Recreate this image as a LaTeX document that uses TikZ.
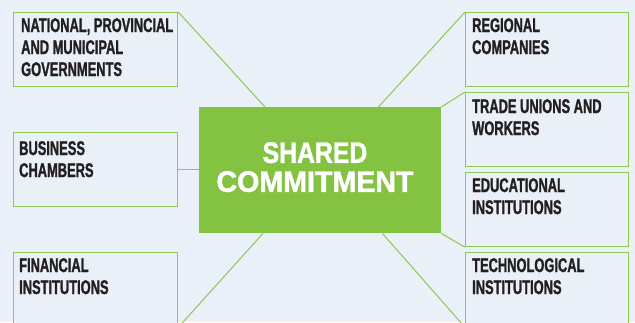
\documentclass[tikz,border=0pt]{standalone}
\usepackage{fontspec}
\usepackage{graphicx}
\usetikzlibrary{calc}
\newfontfamily\cardfont[FakeStretch=0.65,FakeBold=1.2]{Liberation Sans}
\newfontfamily\hubfont[FakeBold=1.5]{Liberation Sans}
\definecolor{bgblue}{HTML}{E9F0F7}
\definecolor{hubgreen}{HTML}{84C341}
\definecolor{edgegreen}{HTML}{8DC756}
\definecolor{inkgray}{HTML}{231F20}
\tikzset{
  card/.style={draw=edgegreen, line width=1.3pt, fill=bgblue, anchor=north west,
    minimum width=164pt, minimum height=74pt, inner sep=0pt},
  cardtext/.style={anchor=north west, inner sep=0pt, align=left, text=inkgray,
    font=\cardfont\bfseries\fontsize{19.8}{22}\selectfont},
  hubbox/.style={fill=hubgreen, anchor=north west, minimum width=242pt,
    minimum height=126pt, inner sep=0pt},
  hubtext/.style={anchor=north, inner sep=0pt, align=center, text=white,
    font=\hubfont\bfseries\fontsize{29.5}{29}\selectfont},
  link/.style={draw=edgegreen, line width=1pt}
}
\begin{document}
\begin{tikzpicture}[x=1pt,y=-1pt]
\useasboundingbox (0,0) rectangle (635,322);
\fill[bgblue] (0,0) rectangle (635,322);
\clip (0,0) rectangle (635,322);

% central box
\node[hubbox] (hub) at (199,107) {};

% left column
\node[card] (gov) at (13,12) {};
\node[card] (biz) at (13,132) {};
\node[card] (fin) at (13,252) {};

% right column
\node[card, minimum width=163pt] (reg) at (465,12) {};
\node[card, minimum width=163pt] (uni) at (465,92) {};
\node[card, minimum width=163pt] (edu) at (465,172) {};
\node[card, minimum width=163pt] (tec) at (465,252) {};

% connectors
\draw[link] (gov.north east) -- ($(hub.north west)+(66,0)$);
\draw[link] (reg.north west) -- ($(hub.north east)+(-63,0)$);
\draw[link] (uni.north west) -- (hub.north east);
\draw[link] (biz.east) -- (hub.west |- biz.east);
\draw[link] (edu.south west) -- (hub.south east);
\draw[link] (fin.south east) -- ($(hub.south west)+(64,0)$);
\draw[link] (tec.south west) -- ($(hub.south east)+(-59,0)$);

% labels
\node[cardtext] (govtx) at ($(gov.north west)+(8,6)$) {NATIONAL, PROVINCIAL\\AND MUNICIPAL\\GOVERNMENTS};
\node[cardtext] (biztx) at ($(biz.north west)+(6,9)$) {BUSINESS\\CHAMBERS};
\node[cardtext] (fintx) at ($(fin.north west)+(6,6)$) {FINANCIAL\\INSTITUTIONS};
\node[cardtext] (regtx) at ($(reg.north west)+(7,6)$) {REGIONAL\\COMPANIES};
\node[cardtext] (unitx) at ($(uni.north west)+(7,7)$) {TRADE UNIONS AND\\WORKERS};
\node[cardtext] (edutx) at ($(edu.north west)+(7,6)$) {EDUCATIONAL\\INSTITUTIONS};
\node[cardtext] (tectx) at ($(tec.north west)+(7,6)$) {TECHNOLOGICAL\\INSTITUTIONS};

\node[hubtext] (hubtx) at (315,142) {\scalebox{0.84}[1]{SHARED}\\\scalebox{0.97}[1]{COMMITMENT}};
\end{tikzpicture}
\end{document}
